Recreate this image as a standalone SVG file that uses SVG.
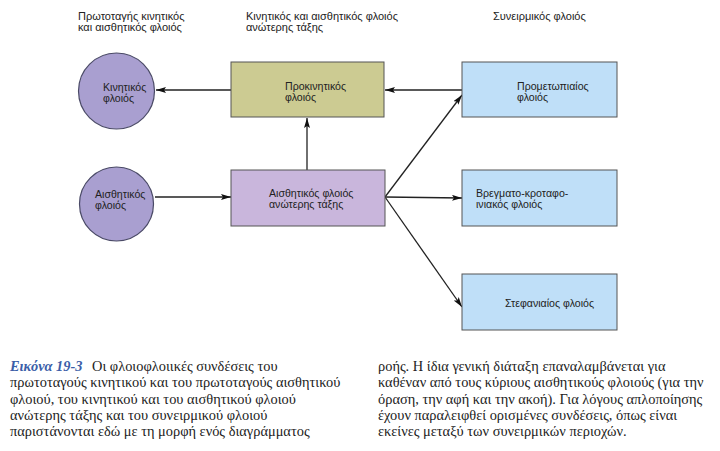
<svg xmlns="http://www.w3.org/2000/svg" width="720" height="451" viewBox="0 0 720 451">
<style>
.h{font-family:"Liberation Sans",Arial,sans-serif;font-size:11px;fill:#222}
.n{font-family:"Liberation Sans",Arial,sans-serif;font-size:10.6px;fill:#222}
.c{font-family:"Liberation Serif","Times New Roman",serif;font-size:14.4px;fill:#222}
.fig{fill:#3b5ea8;font-style:italic;font-weight:bold}
.circ{fill:#a99fd0;stroke:#4a4a66;stroke-width:1.2}
.pm{fill:#cccb92;stroke:#555;stroke-width:1}
.sa{fill:#c9b6dc;stroke:#555;stroke-width:1}
.bl{fill:#bfdff8;stroke:#555;stroke-width:1}
.e{stroke:#222;stroke-width:1.3;fill:none;marker-end:url(#ah)}
</style>
<defs>
<marker id="ah" viewBox="0 0 10 6" refX="10" refY="3" markerWidth="10" markerHeight="6" markerUnits="userSpaceOnUse" orient="auto">
<path d="M0,0 L10,3 L0,6 L2,3 z" fill="#111"/>
</marker>
</defs>
<rect width="720" height="451" fill="#fff"/>
<g id="headers">
<text class="h" x="78" y="20">Πρωτοταγής κινητικός</text>
<text class="h" x="78" y="31">και αισθητικός φλοιός</text>
<text class="h" x="246" y="20">Κινητικός και αισθητικός φλοιός</text>
<text class="h" x="246" y="31">ανώτερης τάξης</text>
<text class="h" x="493" y="20">Συνειρμικός φλοιός</text>
</g>
<g id="connectors">
<line class="e" x1="231" y1="90" x2="156" y2="90"/>
<line class="e" x1="462" y1="90" x2="385" y2="90"/>
<line class="e" x1="307" y1="170" x2="307" y2="118"/>
<line class="e" x1="155" y1="197" x2="231" y2="197"/>
<line class="e" x1="385" y1="197" x2="462" y2="95"/>
<line class="e" x1="385" y1="197" x2="462" y2="198"/>
<line class="e" x1="385" y1="197" x2="462" y2="307"/>
</g>
<g id="motor">
<circle class="circ" cx="116.5" cy="91" r="38"/>
<text class="n" x="103" y="91">Κινητικός</text>
<text class="n" x="103" y="102">φλοιός</text>
</g>
<g id="sensory">
<circle class="circ" cx="116.5" cy="204" r="37"/>
<text class="n" x="95" y="198">Αισθητικός</text>
<text class="n" x="95" y="209">φλοιός</text>
</g>
<g id="premotor">
<rect class="pm" x="231" y="62" width="153" height="55"/>
<text class="n" x="285" y="90">Προκινητικός</text>
<text class="n" x="285" y="101">φλοιός</text>
</g>
<g id="higher-sensory">
<rect class="sa" x="231" y="170" width="154" height="56"/>
<text class="n" x="269" y="197">Αισθητικός φλοιός</text>
<text class="n" x="269" y="208">ανώτερης τάξης</text>
</g>
<g id="prefrontal">
<rect class="bl" x="462" y="62" width="155" height="55"/>
<text class="n" x="517" y="90">Προμετωπιαίος</text>
<text class="n" x="517" y="101">φλοιός</text>
</g>
<g id="parietotemporal">
<rect class="bl" x="462" y="170" width="155" height="56"/>
<text class="n" x="476" y="197">Βρεγματο-κροταφο-</text>
<text class="n" x="476" y="208">ινιακός φλοιός</text>
</g>
<g id="limbic">
<rect class="bl" x="462" y="274" width="155" height="56"/>
<text class="n" x="505" y="307">Στεφανιαίος φλοιός</text>
</g>
<g id="caption">
<text class="c fig" x="10" y="371">Εικόνα 19-3</text>
<text class="c" x="92" y="371">Οι φλοιοφλοιικές συνδέσεις του</text>
<text class="c" x="10" y="387">πρωτοταγούς κινητικού και του πρωτοταγούς αισθητικού</text>
<text class="c" x="10" y="404">φλοιού, του κινητικού και του αισθητικού φλοιού</text>
<text class="c" x="10" y="420">ανώτερης τάξης και του συνειρμικού φλοιού</text>
<text class="c" x="10" y="436">παριστάνονται εδώ με τη μορφή ενός διαγράμματος</text>
<text class="c" x="378" y="371">ροής. Η ίδια γενική διάταξη επαναλαμβάνεται για</text>
<text class="c" x="378" y="387">καθέναν από τους κύριους αισθητικούς φλοιούς (για την</text>
<text class="c" x="378" y="404">όραση, την αφή και την ακοή). Για λόγους απλοποίησης</text>
<text class="c" x="378" y="420">έχουν παραλειφθεί ορισμένες συνδέσεις, όπως είναι</text>
<text class="c" x="378" y="436">εκείνες μεταξύ των συνειρμικών περιοχών.</text>
</g>
</svg>
